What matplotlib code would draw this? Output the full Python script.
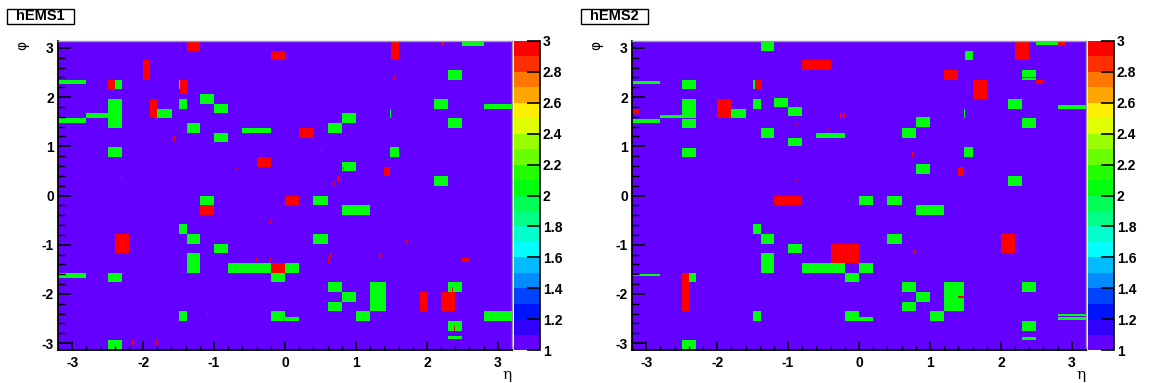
import colorsys
import numpy as np
import matplotlib
matplotlib.use("Agg")
import matplotlib.pyplot as plt
from matplotlib.colors import ListedColormap, BoundaryNorm
from matplotlib.patches import Rectangle
from matplotlib.ticker import MultipleLocator, FixedLocator, FuncFormatter

plt.rcParams['font.family'] = ['Liberation Sans', 'DejaVu Sans']
plt.rcParams['font.weight'] = 'bold'
plt.rcParams['axes.unicode_minus'] = False

W, H = 1149, 383
titles = ["hEMS1", "hEMS2"]
eta_ticks = [-3, -2, -1, 0, 1, 2, 3]
phi_ticks = [-3, -2, -1, 0, 1, 2, 3]
z_levels = np.linspace(1, 3, 21)
z_ticks = [1, 1.2, 1.4, 1.6, 1.8, 2, 2.2, 2.4, 2.6, 2.8, 3]

# cells: (eta_lo, eta_hi, phi_lo, phi_hi), phi in units of pi/32
hems1_green = [
    (2.5, 2.8, 31, 32), (2.3, 2.5, 24, 26), (-3.2, -2.8, 23, 24), (-2.4, -2.3, 22, 24),
    (-1.5, -1.48, 22, 24), (-1.2, -1.0, 19, 21), (-1.5, -1.375, 18, 20), (-1.0, -0.8, 17, 19),
    (-2.5, -2.3, 14, 20), (-2.8, -2.5, 16, 17), (-3.2, -2.8, 15, 16), (-1.8, -1.6, 16, 18),
    (2.1, 2.3, 18, 20), (2.8, 3.2, 18, 19), (1.475, 1.5, 16, 18), (0.8, 1.0, 15, 17),
    (2.3, 2.5, 14, 16), (-1.375, -1.2, 13, 15), (-0.6, -0.2, 13, 14), (0.6, 0.8, 13, 15),
    (-1.0, -0.8, 11, 13), (-2.5, -2.3, 8, 10), (1.475, 1.6, 8, 10), (0.8, 1.0, 5, 7),
    (2.1, 2.3, 2, 4), (-1.2, -1.0, -2, 0), (0.4, 0.6, -2, 0), (0.8, 1.2, -4, -2),
    (-1.5, -1.375, -8, -6), (-1.375, -1.2, -10, -8), (0.4, 0.6, -10, -8), (-1.0, -0.8, -12, -10),
    (-1.375, -1.2, -16, -12), (-0.8, -0.2, -16, -14), (0, 0.2, -16, -14), (-3.2, -2.8, -17, -16),
    (-2.5, -2.3, -18, -16), (-0.2, 0, -18, -16), (0.6, 0.8, -20, -18), (1.2, 1.425, -24, -18),
    (2.3, 2.5, -20, -18), (0.8, 1.0, -22, -20), (0.6, 0.8, -24, -22), (-1.5, -1.375, -26, -24),
    (-0.2, 0, -26, -24), (0, 0.2, -26, -25.25), (1.0, 1.2, -26, -24), (2.8, 3.2, -26, -24),
    (2.3, 2.5, -28, -26), (2.3, 2.5, -29.75, -29), (-2.5, -2.3, -32, -30),
]
hems1_red = [
    (-1.375, -1.2, 30, 32), (-0.2, 0, 28, 30), (1.5, 1.6, 28, 32), (-2.0, -1.9, 24, 28),
    (-2.5, -2.4, 22, 24), (-1.48, -1.375, 21, 24), (-1.9, -1.8, 16, 20), (0.2, 0.4, 12, 14),
    (-0.4, -0.2, 6, 8), (1.4, 1.475, 4, 6), (0, 0.2, -2, 0), (-1.2, -1.0, -4, -2),
    (-2.4, -2.2, -12, -8), (-0.2, 0, -16, -14), (2.5, 2.6, -13.75, -13), (1.9, 2.0, -24, -20),
    (2.2, 2.4, -24, -20),
]
# thin red strips: (eta, phi_lo, phi_hi)
hems1_strips = [
    (-1.487, 30, 31.25), (2.227, 31.25, 32), (1.549, 24, 25), (-1.56, 11, 12.25),
    (0.516, 9, 10), (-0.683, 5.25, 6), (-2.30, 3, 4), (0.746, 3, 4), (0.704, 2, 3),
    (0.829, 5.25, 6), (1.028, 4, 5), (-0.203, -6, -5), (1.716, -10, -9),
    (-0.40, -13.75, -13), (-0.203, -13.75, -13), (0.61, -14, -13), (0.642, -13, -12),
    (1.35, -13, -12), (-1.09, -24.75, -24), (-0.016, -26, -25.25), (2.363, -20, -19),
    (2.394, -28, -27), (-2.144, -31, -30), (-1.81, -31, -30),
]

hems2_green = [
    (-1.375, -1.2, 30, 32), (2.5, 2.8, 31.25, 31.75), (1.5, 1.6, 28, 30), (2.3, 2.5, 24.5, 26),
    (2.3, 2.5, 24, 24.25), (-3.2, -2.8, 23, 23.75), (-2.5, -2.3, 22, 24), (-1.49, -1.46, 22, 24),
    (-1.2, -1.0, 18.25, 20.25), (-1.5, -1.375, 18, 20), (-1.0, -0.8, 16.5, 18.25),
    (-2.5, -2.3, 16, 20), (-2.8, -2.5, 16, 16.75), (-3.2, -2.8, 15, 15.75), (-1.8, -1.6, 16, 18),
    (-2.5, -2.3, 14, 15.75), (2.1, 2.3, 18, 20), (2.8, 3.2, 18, 18.75), (1.48, 1.5, 16, 18),
    (0.8, 1.0, 14.25, 16.25), (2.3, 2.5, 14, 16), (-1.375, -1.2, 12, 14), (-0.6, -0.2, 12, 13),
    (0.6, 0.8, 12, 14), (-1.0, -0.8, 10.25, 12), (-2.5, -2.3, 8, 9.75), (1.475, 1.6, 8, 10),
    (0.8, 1.0, 4.5, 6.5), (2.1, 2.3, 2, 4), (0, 0.2, -2, 0), (0.4, 0.6, -2, 0),
    (0.8, 1.2, -4, -2), (-1.5, -1.375, -8, -6), (-1.375, -1.2, -10, -8), (0.4, 0.6, -10, -8),
    (-1.0, -0.8, -12, -10), (-1.375, -1.2, -16, -12), (-0.8, -0.2, -16, -14), (0, 0.2, -16, -14),
    (-3.2, -2.8, -16.75, -16.25), (-2.4, -2.3, -18, -16), (-0.2, 0, -18, -16), (0.6, 0.8, -20, -18),
    (1.2, 1.475, -24, -18), (2.3, 2.5, -20, -18), (0.8, 1.0, -22, -20), (0.6, 0.8, -24, -22),
    (-1.5, -1.375, -26, -24), (-0.2, 0, -26, -24), (0, 0.2, -26, -25.25), (1.0, 1.2, -26, -24),
    (2.8, 3.2, -25, -24.5), (2.8, 3.2, -25.75, -25.25), (2.3, 2.5, -28, -26),
    (2.3, 2.5, -30, -29.25), (-2.5, -2.3, -32, -30),
]
hems2_red = [
    (2.2, 2.4, 28, 32), (2.8, 2.9, 31, 32), (-0.8, -0.4, 26, 28), (1.2, 1.4, 24, 26),
    (2.5, 2.6, 23, 24), (1.6, 1.8, 20, 24), (-1.46, -1.375, 22, 24), (-2.0, -1.8, 16, 20),
    (-3.2, -3.1, 17, 18), (-0.265, -0.235, 16, 17), (-0.225, -0.2, 16, 17), (1.4, 1.475, 4, 6),
    (-1.2, -0.8, -2, 0), (-0.4, 0, -14, -10), (2.0, 2.2, -12, -8), (0.77, 0.8, -12, -11),
    (-2.5, -2.4, -24, -16), (1.4, 1.475, -21.25, -20.75),
]
hems2_strips = [
    (0.757, 8, 9), (-1.11, 30.5, 30.75), (-1.565, 25.25, 25.5), (-1.167, 24.25, 24.5),
    (-2.41, 20.5, 20.75), (-0.888, 14.5, 14.75), (-0.43, 13.75, 14), (-2.385, 11.25, 11.5),
    (-2.236, 7.75, 8), (0.485, 8, 8.25), (1.86, 25, 25.25), (2.40, 0.5, 0.75),
    (-0.888, 3, 3.25), (1.187, -0.5, -0.25), (0.95, -1, -0.75), (-2.457, -2.25, -2),
    (2.40, -2.25, -2), (0.434, -4.5, -4.25), (2.41, -4.75, -4.5), (-2.328, -12.5, -12),
    (1.394, -11.75, -11.5), (0.909, -18.5, -18.25), (-1.80, -17.75, -17.5),
    (-1.91, -30.25, -30), (2.034, -30.75, -30.5),
]

panels = [
    (hems1_green, hems1_red, hems1_strips),
    (hems2_green, hems2_red, hems2_strips),
]

# ROOT "pretty" palette, 20 contour levels
colors = []
for i in range(20):
    idx = int((i + 0.99) * 50 / 20)
    hue = 280 - (idx + 1) * 280 / 50
    colors.append(colorsys.hls_to_rgb(hue / 360.0, 0.5, 1.0))
cmap = ListedColormap(colors)
cmap.set_over(colors[-1])
cmap.set_under(colors[0])
norm = BoundaryNorm(z_levels, 20)

PHI_BIN = np.pi / 32
eta_edges = np.linspace(-3.2, 3.2, 1281)
phi_edges = np.linspace(-np.pi, np.pi, 257)
eta_c = 0.5 * (eta_edges[1:] + eta_edges[:-1])
phi_c = 0.5 * (phi_edges[1:] + phi_edges[:-1])


def fill(z, cells, value):
    for e0, e1, k0, k1 in cells:
        mx = (eta_c > e0) & (eta_c < e1)
        my = (phi_c > k0 * PHI_BIN) & (phi_c < k1 * PHI_BIN)
        z[np.ix_(my, mx)] = value


fig = plt.figure(figsize=(W / 100, H / 100), dpi=100)

for p, (green, red, strips) in enumerate(panels):
    off = p * 574
    z = np.ones((len(phi_c), len(eta_c)))
    fill(z, green, 2)
    fill(z, red, 3)
    fill(z, [(e - 0.007, e + 0.007, k0, k1) for e, k0, k1 in strips], 3)

    ax = fig.add_axes([(58 + off) / W, 33 / H, 454 / W, 309 / H])
    ax.pcolormesh(eta_edges, phi_edges, z, cmap=cmap, norm=norm,
                  shading='flat', antialiased=False, edgecolors='none')
    ax.set_xlim(-3.2, 3.2)
    ax.set_ylim(-np.pi, np.pi)
    ax.xaxis.set_major_locator(FixedLocator(eta_ticks))
    ax.yaxis.set_major_locator(FixedLocator(phi_ticks))
    ax.xaxis.set_minor_locator(MultipleLocator(0.2))
    ax.yaxis.set_minor_locator(MultipleLocator(0.2))
    ax.xaxis.set_major_formatter(FuncFormatter(lambda v, pos: "%d" % v))
    ax.yaxis.set_major_formatter(FuncFormatter(lambda v, pos: "%d" % v))
    ax.tick_params(axis='x', which='major', direction='in', length=6.5, width=1.2,
                   labelsize=10, pad=4)
    ax.tick_params(axis='x', which='minor', direction='in', length=3.2, width=1)
    ax.tick_params(axis='y', which='major', direction='in', length=9.4, width=1.2,
                   labelsize=10, pad=3)
    ax.tick_params(axis='y', which='minor', direction='in', length=4.7, width=1)
    for s in ['left', 'bottom']:
        ax.spines[s].set_color('black')
        ax.spines[s].set_linewidth(1.3)
    for s in ['top', 'right']:
        ax.spines[s].set_color('#999999')
        ax.spines[s].set_linewidth(1)

    cax = fig.add_axes([(514 + off) / W, 33 / H, 26 / W, 309 / H])
    mid = 0.5 * (z_levels[1:] + z_levels[:-1])
    cax.pcolormesh([0, 1], z_levels, mid.reshape(-1, 1), cmap=cmap, norm=norm,
                   shading='flat', antialiased=False, edgecolors='none')
    cax.set_xlim(0, 1)
    cax.set_ylim(1, 3)
    cax.set_xticks([])
    cax.yaxis.tick_right()
    cax.yaxis.set_major_locator(FixedLocator(z_ticks))
    cax.yaxis.set_major_formatter(FuncFormatter(lambda v, pos: "%g" % round(v, 1)))
    cax.tick_params(axis='y', direction='in', length=9.4, width=1.2, labelsize=10, pad=2)
    for s in ['left', 'top', 'bottom']:
        cax.spines[s].set_visible(False)
    cax.spines['right'].set_linewidth(1.2)

    fig.add_artist(Rectangle(((7 + off) / W, (H - 24) / H), 67 / W, 15 / H,
                             transform=fig.transFigure, fc='white', ec='black', lw=1))
    fig.text((40.5 + off) / W, 1 - 16.5 / H, titles[p], ha='center', va='center',
             fontsize=10.5, fontweight='bold')
    fig.text((22 + off) / W, 1 - 45 / H, "φ", rotation=90, ha='center', va='center',
             fontsize=10, fontweight='normal', family='DejaVu Sans')
    fig.text((507 + off) / W, 1 - 375 / H, "η", ha='center', va='center',
             fontsize=11, fontweight='normal', family='DejaVu Serif')

fig.savefig("out.png", dpi=100, facecolor='white')
